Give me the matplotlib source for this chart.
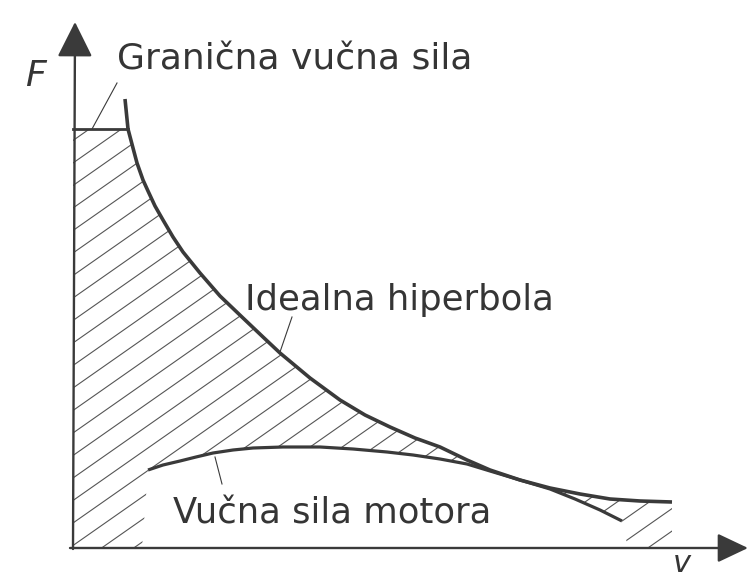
import numpy as np
import matplotlib.pyplot as plt
from matplotlib.patches import Polygon

# Readings from the figure: v to the right of the F axis, F above the v axis (pixel-like units)
hyper_v = [52, 55, 60, 64, 70, 75, 82, 90, 100, 110, 127, 147, 170, 190, 207, 237, 267, 292,
           317, 342, 367, 394, 417, 447, 477, 507, 537, 567, 599]
hyper_F = [449, 419, 400, 385, 368, 357, 342, 328, 311, 296, 275, 252, 230, 211, 195, 170, 148, 133,
           121, 110, 101, 88, 78, 68, 60, 54, 49, 47, 46]

motor_v = [75, 90, 107, 123, 140, 160, 180, 210, 247, 280, 314, 340, 367, 394, 417, 447, 477, 502, 527, 549]
motor_F = [78, 83, 87, 91, 95, 98, 100, 101, 101, 99, 96, 93, 89, 84, 77, 68, 59, 49, 38, 27]

limit_F = 419
limit_v = [0, 55]

labels = ["Granična vučna sila", "Idealna hiperbola", "Vučna sila motora"]

ink = "#3a3a3a"
txt = "#353535"

fig = plt.figure(figsize=(7.48, 5.81), dpi=100)
ax = fig.add_axes([0, 0, 1, 1])
ax.set_xlim(-73, 675)
ax.set_ylim(-33, 548)
ax.axis("off")

# hatched region: under the hyperbola / limit line, above the motor curve
outline = [(0, 0), (0, limit_F)]
outline += list(zip(hyper_v[1:], hyper_F[1:]))
outline += [(hyper_v[-1], 0), (motor_v[-1] + 6, 0)]
outline += list(zip(motor_v[::-1], motor_F[::-1]))
outline += [(motor_v[0] - 6, 0)]
region = Polygon(outline, closed=True, facecolor="none", edgecolor="none")
ax.add_patch(region)

slope = np.tan(np.radians(35))
xs = np.array([-20, 700])
for c in np.arange(-650, 560, 22.5):
    ln, = ax.plot(xs, slope * xs + c, color="#555555", lw=0.8)
    ln.set_clip_path(region)

# curves
ax.plot(hyper_v, hyper_F, color=ink, lw=2.6, solid_capstyle="butt", solid_joinstyle="round")
ax.plot(motor_v, motor_F, color=ink, lw=2.3, solid_capstyle="butt", solid_joinstyle="round")
ax.plot(limit_v, [limit_F, limit_F], color=ink, lw=2.0)

# axes with arrows
ax.annotate("", xy=(2, 526), xytext=(0, -1), annotation_clip=False,
            arrowprops=dict(arrowstyle="-|>,head_length=1.1,head_width=0.55",
                            mutation_scale=20, lw=1.7, color=ink,
                            shrinkA=0, shrinkB=0))
ax.annotate("", xy=(675, 0), xytext=(-3, 0), annotation_clip=False,
            arrowprops=dict(arrowstyle="-|>,head_length=0.95,head_width=0.45",
                            mutation_scale=20, lw=1.7, color=ink,
                            shrinkA=0, shrinkB=0))

# leader lines and labels
ax.plot([19, 44], [419, 465], color=ink, lw=0.8)
ax.plot([219, 207], [231, 196], color=ink, lw=0.8)
ax.plot([142, 149], [91, 64], color=ink, lw=0.8)

ax.text(44, 478, labels[0], fontsize=26, color=txt, va="baseline")
ax.text(172, 238, labels[1], fontsize=25.5, color=txt, va="baseline")
ax.text(100, 25, labels[2], fontsize=25.5, color=txt, va="baseline")

ax.text(-38, 462, "F", fontsize=26, style="italic", color=txt, ha="center", va="baseline")
ax.text(609, -24, "v", fontsize=22, style="italic", color=txt, ha="center", va="baseline")

fig.savefig("out.png", dpi=100)
